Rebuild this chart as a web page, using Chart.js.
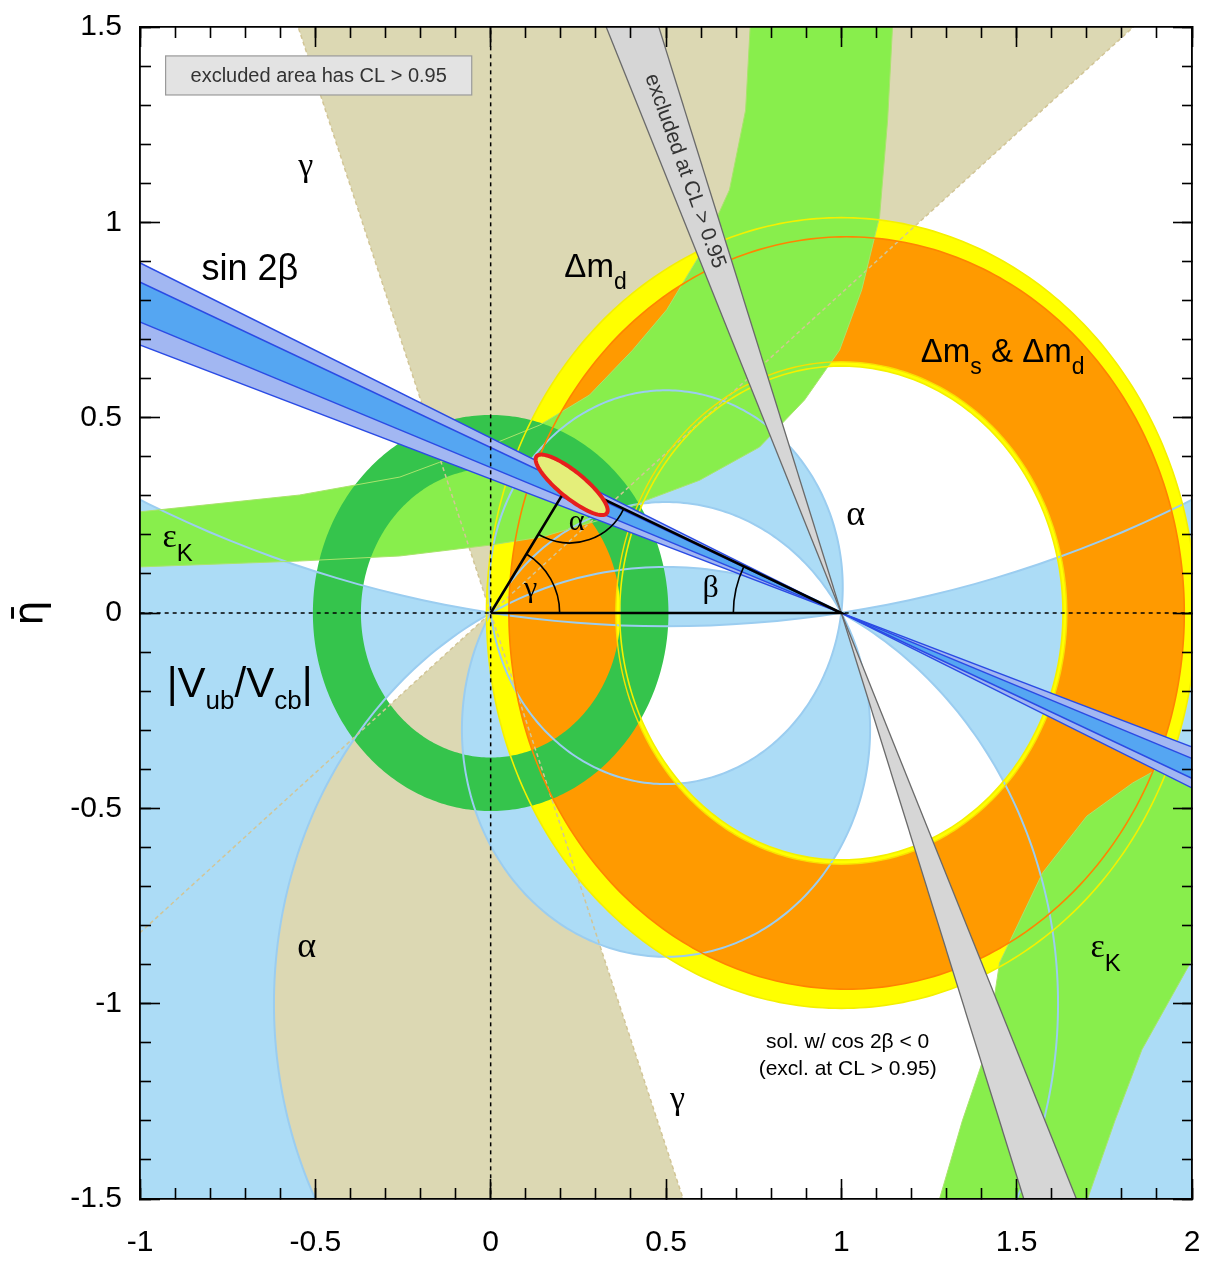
<!DOCTYPE html>
<html>
<head>
<meta charset="utf-8">
<title>CKM fit in the rho-bar / eta-bar plane</title>
<script src="https://cdn.jsdelivr.net/npm/chart.js@4.4.1/dist/chart.umd.min.js"></script>
<style>
  html, body { margin: 0; padding: 0; background: #fff; }
  canvas { display: block; }
</style>
</head>
<body>
<canvas id="ckm" width="1205" height="1261"></canvas>
<script>
// ---------- values (rho-bar on x, eta-bar on y) ----------
const xTickLabels = [-1, -0.5, 0, 0.5, 1, 1.5, 2];
const yTickLabels = [-1.5, -1, -0.5, 0, 0.5, 1, 1.5];

// gamma: edges of the allowed double wedge through the origin (degrees)
const gammaEdges = [39.3, 110.1];

// alpha: circles through (0,0) and (1,0) -> [cx, cy, r]
const alphaCircle1 = [0.5, -1.0, 1.118];
const alphaCircle2 = [0.5, 3.6, 3.634];
const alphaCircle3 = [0.5, -0.298, 0.582];
const alphaCircle4 = [0.5, 0.066, 0.504];

// rings -> [cx, cy, r]
const dmdOuter = [1.0, 0, 1.012];
const dmdInner = [1.0, 0, 0.632];
const dmsOuter = [1.015, 0, 0.963];
const dmsInner = [1.0, 0, 0.643];
const vubOuter = [0, 0, 0.507];
const vubInner = [0, 0, 0.37];

// sin 2beta: slopes of band edges through (1,0)
const sin2bOuter = [-0.448, -0.343];
const sin2bInner = [-0.4235, -0.3725];
// cos 2beta < 0 solution, edges x = 1 + t*y
const cos2bNeg = [-0.447, -0.347];

// epsilon_K bands, edge points
const epsKUpperA = [[0.745, 1.6], [0.74, 1.5], [0.727, 1.287], [0.681, 1.083], [0.596, 0.916], [0.502, 0.776],
  [0.405, 0.673], [0.282, 0.558], [0.14, 0.481], [0.0, 0.43], [-0.145, 0.386], [-0.259, 0.348],
  [-0.545, 0.302], [-1.0, 0.259], [-1.1, 0.252]];
const epsKUpperB = [[1.15, 1.6], [1.146, 1.5], [1.132, 1.262], [1.109, 1.014], [1.058, 0.827], [0.995, 0.673],
  [0.895, 0.545], [0.767, 0.425], [0.596, 0.34], [0.445, 0.289], [0.311, 0.238], [0.148, 0.195],
  [0.0, 0.174], [-0.259, 0.146], [-0.545, 0.133], [-1.0, 0.118], [-1.1, 0.116]];
const epsKLowerA = [[1.262, -1.6], [1.28, -1.5], [1.345, -1.3], [1.414, -1.118], [1.451, -0.896], [1.574, -0.665],
  [1.7, -0.52], [1.831, -0.435], [2.0, -0.351], [2.1, -0.33]];
const epsKLowerB = [[1.68, -1.6], [1.702, -1.5], [1.78, -1.3], [1.857, -1.118], [2.0, -0.888], [2.1, -0.75]];

// unitarity triangle and fit contour
const triangleBase = [[0, 0], [1, 0]];
const apex = [0.225, 0.333];
const fitCentre = [0.231, 0.328];
const fitMajor = [0.1, -0.073];
const fitMinor = [0.0234, 0.0258];

// ---------- styling ----------
const SANS = "'Liberation Sans', Arial, Helvetica, sans-serif";
const SERIF = "'Liberation Serif', 'Times New Roman', serif";
const col = {
  tan: '#dcd8b3', alpha: '#acdcf6', alphaLine: '#9bcdf0', yellow: '#ffff00', orange: '#ff9a00',
  epsK: '#88ee4c', vub: '#35c44c', sbOuter: '#a2b7f2', sbInner: '#55a6f2', sbLine: '#2b4be4',
  grey: '#d6d6d6', greyLine: '#6a6a6a', red: '#e61f1d', fitFill: '#e4ee7a'
};

// ---------- geometry helpers ----------
const toPts = arr => arr.map(p => ({x: p[0], y: p[1]}));
function circleLoop(c, ccw) {
  const pts = [], n = 360;
  for (let i = 0; i <= n; i++) {
    const a = (ccw ? 1 : -1) * 2 * Math.PI * i / n;
    pts.push({x: c[0] + c[2] * Math.cos(a), y: c[1] + c[2] * Math.sin(a)});
  }
  return pts;
}
// join closed loops in one path; bridges are walked there and back
function bridge(loops) {
  const s0 = loops[0][0];
  let pts = loops[0].slice();
  for (let k = 1; k < loops.length; k++) pts = pts.concat(loops[k], [s0]);
  return pts;
}
const frameLoop = toPts([[-1.6, -2.1], [2.6, -2.1], [2.6, 2.1], [-1.6, 2.1], [-1.6, -2.1]]);
const ray = (deg, len) => ({x: len * Math.cos(deg * Math.PI / 180), y: len * Math.sin(deg * Math.PI / 180)});
const onSin2b = (s, x) => ({x: x, y: s * (x - 1)});
const onSteep = (t, y) => ({x: 1 + t * y, y: y});

// ---------- datasets ----------
const ds = [];
function addArea(pts, color, order) {
  ds.push({data: pts, showLine: true, fill: 'shape', backgroundColor: color, borderColor: color,
    borderWidth: 0, borderDash: [6, 6], pointRadius: 0, pointHoverRadius: 0, order: order, clip: 0});
}
function addStroke(pts, color, width, order, dash) {
  ds.push({data: pts, showLine: true, fill: false, backgroundColor: color, borderColor: color,
    borderWidth: width, borderDash: dash || [4000, 0], pointRadius: 0, pointHoverRadius: 0, order: order, clip: 0});
}

// gamma double wedge
const O = {x: 0, y: 0};
addArea([O, ray(gammaEdges[0], 4), ray(gammaEdges[1], 4), O,
  ray(gammaEdges[0] + 180, 4), ray(gammaEdges[1] + 180, 4)], col.tan, 100);
// alpha: outside/inside both of circles 1,2 ; between circles 3,4
addArea(bridge([frameLoop, circleLoop(alphaCircle1, false), circleLoop(alphaCircle2, false)]), col.alpha, 95);
addArea(bridge([circleLoop(alphaCircle4, true), circleLoop(alphaCircle3, false)]), col.alpha, 94);
// Delta m_d and Delta m_s & Delta m_d rings
addArea(bridge([circleLoop(dmdOuter, true), circleLoop(dmdInner, false)]), col.yellow, 90);
addArea(bridge([circleLoop(dmsOuter, true), circleLoop(dmsInner, false)]), col.orange, 85);
// epsilon_K
addArea(toPts(epsKUpperA).concat(toPts(epsKUpperB).reverse()), col.epsK, 80);
addArea(toPts(epsKLowerA).concat(toPts(epsKLowerB).reverse()), col.epsK, 80);
// |Vub/Vcb|
addArea(bridge([circleLoop(vubOuter, true), circleLoop(vubInner, false)]), col.vub, 75);

// contours on top of the fills
[alphaCircle1, alphaCircle2, alphaCircle3, alphaCircle4].forEach(c => addStroke(circleLoop(c, true), col.alphaLine, 2, 48));
gammaEdges.forEach(g => addStroke([ray(g + 180, 4), ray(g, 4)], '#d2c596', 1.5, 47, [4, 3]));
[epsKUpperA, epsKUpperB, epsKLowerA, epsKLowerB].forEach(e => addStroke(toPts(e), '#a9e46c', 1, 46));
addStroke(circleLoop(dmdOuter, true), '#f4f000', 1.6, 45);
addStroke(circleLoop(dmdInner, true), '#f4f000', 1.6, 45);
addStroke(circleLoop(dmsOuter, true), '#ff8400', 1.6, 44);
addStroke(circleLoop(dmsInner, true), '#f8e000', 1.4, 44);

// sin 2beta bands
addArea([onSin2b(sin2bOuter[0], -1.6), onSin2b(sin2bOuter[0], 2.6), onSin2b(sin2bOuter[1], 2.6), onSin2b(sin2bOuter[1], -1.6)], col.sbOuter, 38);
addArea([onSin2b(sin2bInner[0], -1.6), onSin2b(sin2bInner[0], 2.6), onSin2b(sin2bInner[1], 2.6), onSin2b(sin2bInner[1], -1.6)], col.sbInner, 37);
sin2bOuter.concat(sin2bInner).forEach(s => addStroke([onSin2b(s, -1.6), onSin2b(s, 2.6)], col.sbLine, 1.5, 33));
// cos 2beta < 0 solution (excluded)
addArea([onSteep(cos2bNeg[0], 2.1), onSteep(cos2bNeg[0], -2.1), onSteep(cos2bNeg[1], -2.1), onSteep(cos2bNeg[1], 2.1)], col.grey, 36);
cos2bNeg.forEach(t => addStroke([onSteep(t, 2.1), onSteep(t, -2.1)], col.greyLine, 1.3, 32));

// dashed axes through the origin
addStroke([{x: 0, y: -2}, {x: 0, y: 2}], '#000', 1.5, 25, [4, 4]);
addStroke([{x: -1.5, y: 0}, {x: 2.5, y: 0}], '#000', 1.5, 25, [4, 4]);

// triangle
addStroke(toPts([triangleBase[0], triangleBase[1], apex, triangleBase[0]]), '#000', 2.6, 20);

// fitted region
const fitLoop = [];
for (let i = 0; i <= 120; i++) {
  const a = 2 * Math.PI * i / 120;
  fitLoop.push({x: fitCentre[0] + fitMajor[0] * Math.cos(a) + fitMinor[0] * Math.sin(a),
                y: fitCentre[1] + fitMajor[1] * Math.cos(a) + fitMinor[1] * Math.sin(a)});
}
addArea(fitLoop, col.fitFill, 11);
addStroke(fitLoop, col.red, 4, 10);

// ---------- axes ----------
const tenths = (lo, hi) => { const out = []; for (let k = Math.round(lo * 10); k <= Math.round(hi * 10); k++) out.push(k / 10); return out; };
function axis(position, list, tickLen, size, labels, pad) {
  const horizontal = position === 'top' || position === 'bottom';
  return {
    type: 'linear', position: position, weight: labels ? 1 : 0,
    min: horizontal ? -1 : -1.5, max: horizontal ? 2 : 1.5,
    afterBuildTicks: s => { s.ticks = list.map(v => ({value: v})); },
    afterFit: s => {
      if (horizontal) s.height = size; else s.width = size;
      s.paddingLeft = s.paddingRight = s.paddingTop = s.paddingBottom = 0;
    },
    grid: {display: true, drawOnChartArea: false, drawTicks: true, tickLength: tickLen, tickColor: '#000', tickWidth: 1.6, z: 2},
    border: {display: true, color: '#000', width: 1.6, z: 2},
    ticks: {display: labels, autoSkip: false, maxRotation: 0, color: '#000', padding: pad || 0,
      font: {family: SANS, size: 30}, callback: v => String(v)}
  };
}
const yAxis = axis('left', yTickLabels, -20, 140, true, 38);
yAxis.title = {display: true, text: 'η̄', color: '#000', font: {family: "'DejaVu Sans', sans-serif", size: 40}, padding: {top: 8, bottom: 0}};

// ---------- labels / annotations ----------
const labelSpecs = [
  {at: [-0.5275, 1.1185], parts: [['γ', SERIF, 34, 0]]},
  {at: [0.533, -1.2695], parts: [['γ', SERIF, 34, 0]]},
  {at: [-0.687, 0.852], parts: [['sin 2β', SANS, 36, 0]]},
  {at: [0.299, 0.86], parts: [['Δm', SANS, 33, 0], ['d', SANS, 23, 12]]},
  {at: [1.46, 0.642], parts: [['Δm', SANS, 33, 0], ['s', SANS, 23, 12], [' & ', SANS, 33, 0], ['Δm', SANS, 33, 0], ['d', SANS, 23, 12]]},
  {at: [1.041, 0.225], parts: [['α', SERIF, 36, 0]]},
  {at: [-0.525, -0.8805], parts: [['α', SERIF, 36, 0]]},
  {at: [0.245, 0.2124], parts: [['α', SERIF, 30, 0]]},
  {at: [0.627, 0.041], parts: [['β', SERIF, 32, 0]]},
  {at: [0.114, 0.041], parts: [['γ', SERIF, 30, 0]]},
  {at: [-0.8925, 0.169], parts: [['ε', SERIF, 34, 0], ['K', SANS, 24, 14]]},
  {at: [1.754, -0.8805], parts: [['ε', SERIF, 34, 0], ['K', SANS, 24, 14]]},
  {at: [-0.716, -0.215], parts: [['|V', SANS, 42, 0], ['ub', SANS, 26, 12], ['/V', SANS, 42, 0], ['cb', SANS, 26, 12], ['|', SANS, 42, 0]]},
  {at: [1.018, -1.113], parts: [['sol. w/ cos 2β < 0', SANS, 21, 0]]},
  {at: [1.018, -1.1825], parts: [['(excl. at CL > 0.95)', SANS, 21, 0]]}
];

const overlay = {
  id: 'overlay',
  afterDatasetsDraw(chart) {
    const {ctx, scales: {x, y}} = chart;
    const px = v => x.getPixelForValue(v), py = v => y.getPixelForValue(v);
    const o = {x: px(triangleBase[0][0]), y: py(triangleBase[0][1])};
    const b = {x: px(triangleBase[1][0]), y: py(triangleBase[1][1])};
    const a = {x: px(apex[0]), y: py(apex[1])};
    const ang = (p, q) => Math.atan2(q.y - p.y, q.x - p.x);
    ctx.save();
    ctx.strokeStyle = '#000';
    ctx.lineWidth = 1.6;
    ctx.beginPath(); ctx.arc(o.x, o.y, 69, ang(o, a), 0); ctx.stroke();
    ctx.beginPath(); ctx.arc(b.x, b.y, 108, Math.PI, ang(b, a) + 2 * Math.PI); ctx.stroke();
    ctx.beginPath(); ctx.arc(a.x, a.y, 60, ang(a, b), ang(a, o)); ctx.stroke();

    // legend-like box
    const bx0 = px(-0.927), by0 = py(1.426), bx1 = px(-0.054), by1 = py(1.326);
    ctx.fillStyle = '#e3e3e3'; ctx.fillRect(bx0, by0, bx1 - bx0, by1 - by0);
    ctx.strokeStyle = '#9a9a9a'; ctx.lineWidth = 1.2; ctx.strokeRect(bx0, by0, bx1 - bx0, by1 - by0);
    ctx.fillStyle = '#333'; ctx.font = '20px ' + SANS; ctx.textAlign = 'center'; ctx.textBaseline = 'middle';
    ctx.fillText('excluded area has CL > 0.95', (bx0 + bx1) / 2, (by0 + by1) / 2 + 1);

    // text along the cos2beta<0 band
    const tMid = (cos2bNeg[0] + cos2bNeg[1]) / 2;
    const p1 = {x: px(1 + tMid * 1.4), y: py(1.4)}, p2 = {x: px(1 + tMid * 0.8), y: py(0.8)};
    ctx.save();
    ctx.translate(px(1 + tMid * 1.131) + 1, py(1.131));
    ctx.rotate(ang(p1, p2));
    ctx.fillStyle = '#333'; ctx.font = '21px ' + SANS;
    ctx.fillText('excluded at CL > 0.95', 0, 0);
    ctx.restore();

    // labels
    ctx.fillStyle = '#000'; ctx.textAlign = 'left'; ctx.textBaseline = 'alphabetic';
    labelSpecs.forEach(l => {
      let w = 0;
      l.parts.forEach(p => { ctx.font = p[2] + 'px ' + p[1]; w += ctx.measureText(p[0]).width; });
      let cx = px(l.at[0]) - w / 2;
      const cy = py(l.at[1]);
      l.parts.forEach(p => { ctx.font = p[2] + 'px ' + p[1]; ctx.fillText(p[0], cx, cy + p[3]); cx += ctx.measureText(p[0]).width; });
    });
    ctx.restore();
  }
};

new Chart(document.getElementById('ckm'), {
  type: 'scatter',
  data: {datasets: ds},
  options: {
    responsive: false, animation: false, devicePixelRatio: 1, events: [],
    layout: {padding: {top: 27, right: 13, left: 0, bottom: 0}},
    plugins: {legend: {display: false}, tooltip: {enabled: false}},
    scales: {
      x: axis('bottom', xTickLabels, -20, 62, true, 46),
      xMinor: axis('bottom', tenths(-1, 2), -11, 0, false),
      xTop: axis('top', xTickLabels, -20, 0, false),
      xTopMinor: axis('top', tenths(-1, 2), -11, 0, false),
      y: yAxis,
      yMinor: axis('left', tenths(-1.5, 1.5), -11, 0, false),
      yRight: axis('right', yTickLabels, -19, 0, false),
      yRightMinor: axis('right', tenths(-1.5, 1.5), -10, 0, false)
    }
  },
  plugins: [overlay]
});
</script>
</body>
</html>
